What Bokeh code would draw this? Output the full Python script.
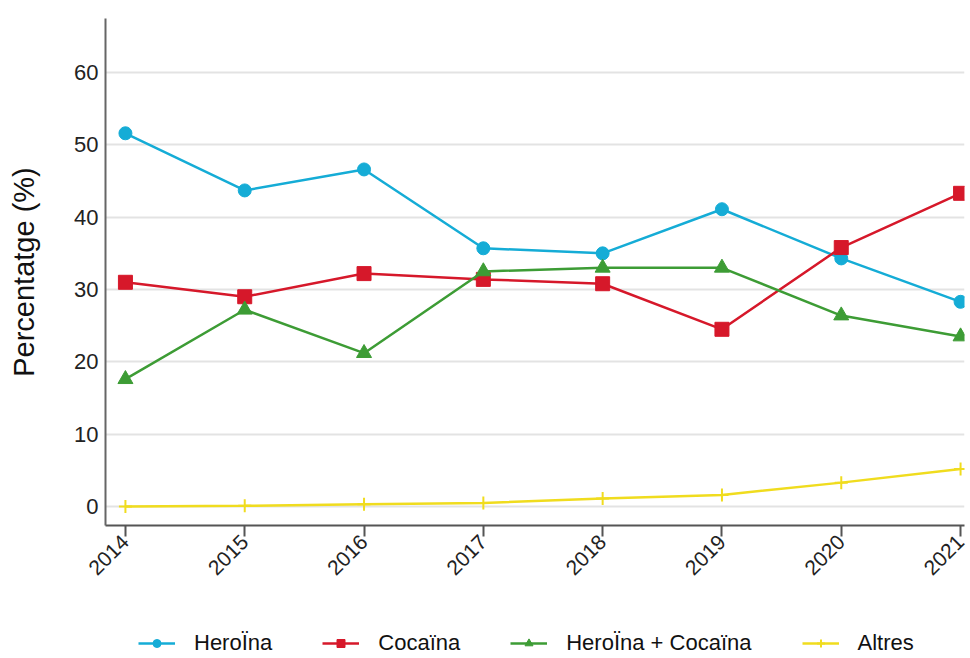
from math import pi
from bokeh.plotting import figure
from bokeh.layouts import column
from bokeh.models import Legend, LegendItem, FixedTicker, Range1d
from bokeh.embed import file_html
from bokeh.resources import INLINE

years = [2014, 2015, 2016, 2017, 2018, 2019, 2020, 2021]
heroina = [51.6, 43.7, 46.6, 35.7, 35.0, 41.1, 34.3, 28.3]
cocaina = [31.0, 29.0, 32.2, 31.4, 30.8, 24.5, 35.8, 43.3]
heroina_cocaina = [17.6, 27.2, 21.2, 32.5, 33.0, 33.0, 26.4, 23.5]
altres = [0.0, 0.1, 0.3, 0.5, 1.1, 1.6, 3.3, 5.2]
y_ticks = [0, 10, 20, 30, 40, 50, 60]
labels = ["HeroÏna", "Cocaïna", "HeroÏna + Cocaïna", "Altres"]

FONT = "Liberation Sans"
c_h, c_c, c_hc, c_a = "#15acd6", "#d6182a", "#3d9c35", "#f0dc1e"
colors = [c_h, c_c, c_hc, c_a]
markers = ["circle", "square", "triangle", "cross"]
series = [heroina, cocaina, heroina_cocaina, altres]
msizes = [13, 14, 15, 13]

p = figure(frame_width=859, frame_height=507, output_backend="svg", toolbar_location=None,
           x_range=Range1d(2013.833, 2021.033), y_range=Range1d(-2.627, 67.47),
           min_border_left=105, min_border_top=18, min_border_right=4, min_border_bottom=105)
p.outline_line_color = None
p.background_fill_color = "white"

for vals, col, mk, ms in zip(series, colors, markers, msizes):
    p.line(years, vals, line_color=col, line_width=2.5)
    if mk == "cross":
        p.scatter(years, vals, marker=mk, size=ms, line_color=col, line_width=2)
    else:
        p.scatter(years, vals, marker=mk, size=ms, fill_color=col, line_color=col)

# axes
p.xaxis.ticker = FixedTicker(ticks=years)
p.xaxis.major_label_orientation = pi / 4
p.xaxis.major_label_text_font = FONT
p.xaxis.major_label_text_font_size = "21px"
p.xaxis.major_label_text_color = "#222222"
p.xaxis.axis_line_color = "#555555"
p.xaxis.axis_line_width = 2
p.xaxis.major_tick_line_color = "#555555"
p.xaxis.major_tick_line_width = 2
p.xaxis.major_tick_out = 11
p.xaxis.major_tick_in = 0
p.xaxis.minor_tick_line_color = None
p.xaxis.major_label_standoff = 2

p.yaxis.ticker = FixedTicker(ticks=y_ticks)
p.yaxis.axis_label = "Percentatge (%)"
p.yaxis.axis_label_text_font = FONT
p.yaxis.axis_label_text_font_style = "normal"
p.yaxis.axis_label_text_font_size = "29px"
p.yaxis.axis_label_text_color = "#111111"
p.yaxis.axis_label_standoff = 31
p.yaxis.major_label_text_font = FONT
p.yaxis.major_label_text_font_size = "22px"
p.yaxis.major_label_text_color = "#222222"
p.yaxis.axis_line_color = "#666666"
p.yaxis.axis_line_width = 2
p.yaxis.major_tick_line_color = None
p.yaxis.major_tick_out = 0
p.yaxis.minor_tick_line_color = None
p.yaxis.major_label_standoff = 7

p.xgrid.grid_line_color = None
p.ygrid.grid_line_color = "#e3e3e3"
p.ygrid.grid_line_width = 2

# legend strip below the chart (its renderers lie outside its own ranges)
lg = figure(width=968, height=26, output_backend="svg", toolbar_location=None,
            x_range=Range1d(0, 1), y_range=Range1d(-1000, -999), min_border=0)
lg.axis.visible = False
lg.grid.grid_line_color = None
lg.outline_line_color = None

items = []
for lab, vals, col, mk in zip(labels, series, colors, markers):
    rl = lg.line(years, vals, line_color=col, line_width=2.5)
    if mk == "cross":
        rm = lg.scatter(years, vals, marker=mk, size=11, line_color=col, line_width=2)
    else:
        rm = lg.scatter(years, vals, marker=mk, size=10, fill_color=col, line_color=col)
    items.append(LegendItem(label=lab, renderers=[rl, rm]))

legend = Legend(items=items, orientation="horizontal", location=(33, 0))
legend.label_text_font = FONT
legend.label_text_font_size = "22px"
legend.label_text_color = "#111111"
legend.border_line_color = None
legend.background_fill_alpha = 0
legend.spacing = 50
legend.glyph_width = 37
legend.label_standoff = 19
legend.margin = 0
legend.padding = 0
lg.add_layout(legend, "center")

open("out.html", "w").write(file_html(column(p, lg, spacing=0), INLINE))
